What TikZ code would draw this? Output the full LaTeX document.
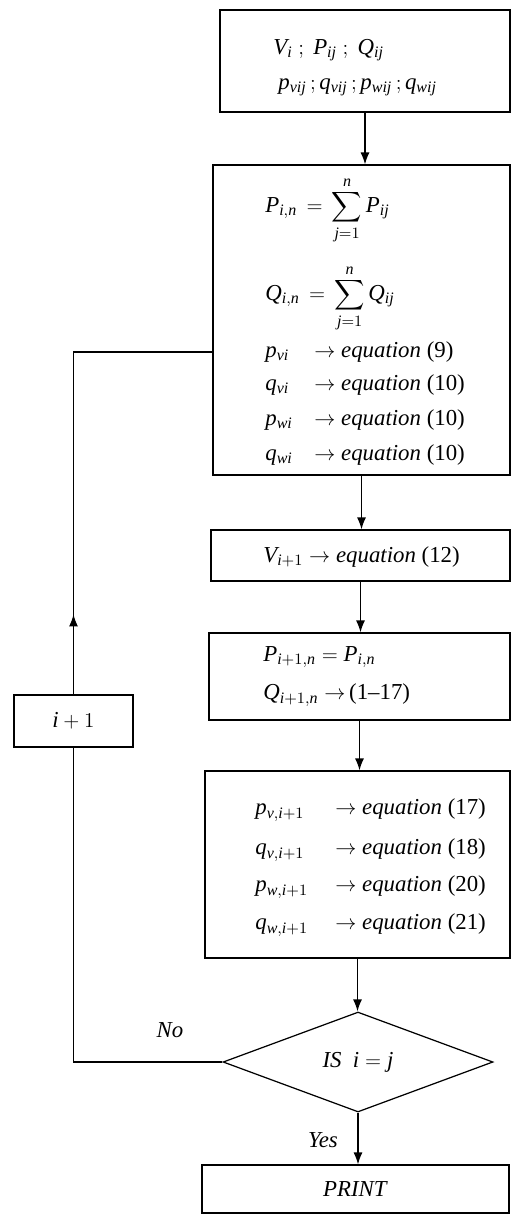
\documentclass[tikz,border=0pt]{standalone}
\usepackage{amsmath}
\usepackage{fontspec}
\setmainfont{Liberation Serif}
\usetikzlibrary{shapes.geometric,arrows.meta}
\newcommand{\vv}[2]{\mathit{#1}_{\mathit{#2}}}
\newcommand{\eqn}[2]{\makebox[#1][l]{$#2$}$\rightarrow$ \textit{equation}}
\begin{document}
\begin{tikzpicture}[x=0.02cm,y=-0.02cm,
  box/.style={draw, rectangle, line width=0.7pt, inner sep=0pt},
  dia/.style={draw, diamond, line width=0.7pt, inner sep=0pt, font=\fontsize{13}{15}\selectfont},
  txt/.style={anchor=west, inner sep=0pt, font=\fontsize{13}{15}\selectfont},
  ctxt/.style={inner sep=0pt, font=\fontsize{13}{15}\selectfont},
  arr/.style={-{Latex[length=2.4mm,width=1.8mm]}, line width=0.7pt},
  conn/.style={line width=0.7pt}]
\useasboundingbox (0,0) rectangle (512,1217);
% boxes
\node[box, minimum width=5.8cm, minimum height=2.04cm] (b1) at (365,61) {};
\node[box, minimum width=5.94cm, minimum height=6.2cm] (b2) at (361.5,320) {};
\node[box, minimum width=5.98cm, minimum height=1.02cm] (b3) at (360.5,555.5) {};
\node[box, minimum width=6.02cm, minimum height=1.74cm] (b4) at (359.5,676.5) {};
\node[box, minimum width=6.1cm, minimum height=3.74cm] (b5) at (357.5,864.5) {};
\node[dia, minimum width=5.4cm, minimum height=2cm] (d) at (358,1062) {\textit{IS}\ \ $\mathit{i}=\mathit{j}$};
\node[box, minimum width=6.14cm, minimum height=0.96cm, font=\fontsize{13}{15}\selectfont] (pr) at (355.5,1189) {\textit{PRINT}};
\node[box, minimum width=2.38cm, minimum height=1.04cm, font=\fontsize{13}{15}\selectfont] (inc) at (73.5,721) {$\mathit{i}+1$};
% texts box 1
\node[txt] (t11) at (273,50) {$\vv{V}{i}\ ;\ \vv{P}{ij}\ ;\ \vv{Q}{ij}$};
\node[txt] (t12) at (278,87) {$\vv{p}{vij}\,;\vv{q}{vij}\,;\vv{p}{wij}\,;\vv{q}{wij}$};
% box 2
\node[txt] (t21) at (265,210) {$\displaystyle \vv{P}{i,n}\,=\,\sum_{\mathit{j}=1}^{\mathit{n}}\vv{P}{ij}$};
\node[txt] (t22) at (265,298) {$\displaystyle \vv{Q}{i,n}\,=\,\sum_{\mathit{j}=1}^{\mathit{n}}\vv{Q}{ij}$};
\node[txt] (t23) at (265,352) {\eqn{0.98cm}{\vv{p}{vi}} (9)};
\node[txt] (t24) at (265,385) {\eqn{0.98cm}{\vv{q}{vi}} (10)};
\node[txt] (t25) at (265,420) {\eqn{0.98cm}{\vv{p}{wi}} (10)};
\node[txt] (t26) at (265,455) {\eqn{0.98cm}{\vv{q}{wi}} (10)};
% box 3
\node[txt] (t31) at (263,557) {$\mathit{V}_{\mathit{i}+1}\rightarrow$ \textit{equation} (12)};
% box 4
\node[txt] (t41) at (263,657) {$\mathit{P}_{\mathit{i}+1,\mathit{n}}=\vv{P}{i,n}$};
\node[txt] (t42) at (263,695) {$\mathit{Q}_{\mathit{i}+1,\mathit{n}}\rightarrow$\,(1–17)};
% box 5
\node[txt] (t51) at (255,810) {\eqn{1.6cm}{\mathit{p}_{\mathit{v,i}+1}} (17)};
\node[txt] (t52) at (255,850) {\eqn{1.6cm}{\mathit{q}_{\mathit{v,i}+1}} (18)};
\node[txt] (t53) at (255,887) {\eqn{1.6cm}{\mathit{p}_{\mathit{w,i}+1}} (20)};
\node[txt] (t54) at (255,925) {\eqn{1.6cm}{\mathit{q}_{\mathit{w,i}+1}} (21)};
% labels
\node[ctxt] (no) at (170,1030) {\textit{No}};
\node[ctxt] (yes) at (323,1140) {\textit{Yes}};
% connectors
\draw[arr] (b1.south) -- (b1.south |- b2.north);
\draw[arr] (b2.south) -- (b2.south |- b3.north);
\draw[arr] (b3.south) -- (b3.south |- b4.north);
\draw[arr] (b4.south) -- (b4.south |- b5.north);
\draw[arr] (b5.south) -- (b5.south |- d.north);
\draw[arr] (d.south) -- (d.south |- pr.north);
\draw[conn] (d.west) -| (inc.south);
\coordinate (lp) at (73.5,352);
\draw[conn] (inc.north) -- (lp) -- (lp -| b2.west);
\draw[arr] (inc.north) -- ++(0,-80);
\end{tikzpicture}
\end{document}
